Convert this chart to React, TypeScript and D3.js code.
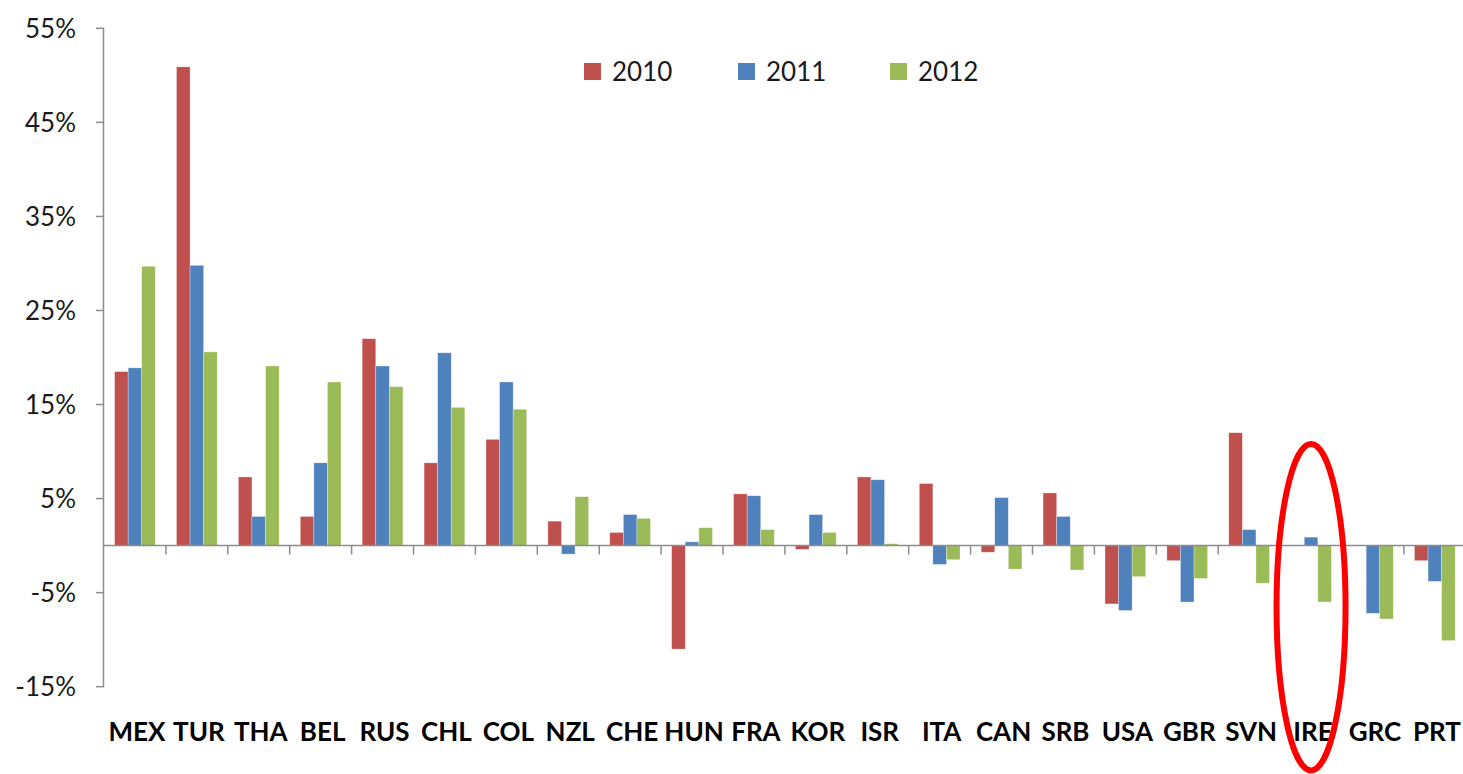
import React from 'react';
import * as d3 from 'd3';

const countries = ['MEX', 'TUR', 'THA', 'BEL', 'RUS', 'CHL', 'COL', 'NZL', 'CHE', 'HUN', 'FRA', 'KOR', 'ISR', 'ITA', 'CAN', 'SRB', 'USA', 'GBR', 'SVN', 'IRE', 'GRC', 'PRT'];
const years = ['2010', '2011', '2012'];
const values2010 = [18.5, 50.9, 7.3, 3.1, 22.0, 8.8, 11.3, 2.6, 1.4, -11.0, 5.5, -0.4, 7.3, 6.6, -0.7, 5.6, -6.2, -1.6, 12.0, 0, 0, -1.6];
const values2011 = [18.9, 29.8, 3.1, 8.8, 19.1, 20.5, 17.4, -0.9, 3.3, 0.4, 5.3, 3.3, 7.0, -2.0, 5.1, 3.1, -6.9, -6.0, 1.7, 0.9, -7.2, -3.8];
const values2012 = [29.7, 20.6, 19.1, 17.4, 16.9, 14.7, 14.5, 5.2, 2.9, 1.9, 1.7, 1.4, 0.2, -1.5, -2.5, -2.6, -3.3, -3.5, -4.0, -6.0, -7.8, -10.1];
const yTicks = [55, 45, 35, 25, 15, 5, -5, -15];
const colors = ['#C0504D', '#4F81BD', '#9BBB59'];

// red ring drawn around one country
const highlight = 'IRE';
const highlightRange = [10.8, -23.9];

const width = 1463;
const height = 774;
const left = 104;
const step = 61.9;

const App = () => {
  const series = [values2010, values2011, values2012];

  const x0 = d3.scaleBand()
    .domain(countries)
    .range([left, left + step * countries.length])
    .padding(0);

  const x1 = d3.scaleBand()
    .domain(years)
    .range([0, x0.bandwidth()])
    .paddingInner(0)
    .paddingOuter(0.78);

  const y = d3.scaleLinear()
    .domain([-15, 55])
    .range([686.7, 28.3]);

  const zero = y(0);

  // ellipse around highlighted country
  const hx = x0(highlight) + x0.bandwidth() / 2;
  const hTop = y(highlightRange[0]);
  const hBottom = y(highlightRange[1]);

  const legendX = [584, 738, 890];

  return (
    <svg width={width} height={height} style={{ position: 'absolute', left: 0, top: 0, background: '#fff' }}>
      {/* y axis */}
      <line x1={left - 0.5} x2={left - 0.5} y1={y(55)} y2={y(-15)} stroke="#8c8c8c" strokeWidth={1.5} />
      {yTicks.map(t => (
        <g key={t}>
          <line x1={left - 8} x2={left} y1={y(t)} y2={y(t)} stroke="#8c8c8c" strokeWidth={1.5} />
          <text x={76} y={y(t)} dy="0.36em" textAnchor="end" fontFamily="Lato" fontSize={26} fill="#1a1a1a">{t}%</text>
        </g>
      ))}

      {/* bars */}
      {countries.map((c, i) => (
        <g key={c} transform={`translate(${x0(c)},0)`}>
          {series.map((s, j) => (
            <rect
              key={years[j]}
              x={x1(years[j])}
              y={Math.min(y(s[i]), zero)}
              width={x1.bandwidth()}
              height={Math.abs(y(s[i]) - zero)}
              fill={colors[j]}
              stroke="#fff"
              strokeOpacity={0.5}
              strokeWidth={0.6}
            />
          ))}
        </g>
      ))}

      {/* zero line and category ticks */}
      <line x1={left} x2={width} y1={zero} y2={zero} stroke="#8c8c8c" strokeWidth={1.5} />
      {countries.map(c => (
        <line key={c} x1={x0(c) + step} x2={x0(c) + step} y1={zero} y2={zero + 9} stroke="#8c8c8c" strokeWidth={1.5} />
      ))}

      {/* category labels */}
      {countries.map(c => (
        <text key={c} x={x0(c) + x0.bandwidth() / 2 + 2} y={741} textAnchor="middle" fontFamily="Lato" fontWeight="bold" fontSize={26} fill="#000">{c}</text>
      ))}

      {/* legend */}
      {years.map((yr, j) => (
        <g key={yr} transform={`translate(${legendX[j]},63)`}>
          <rect width={17} height={17} fill={colors[j]} />
          <text x={28} y={18} fontFamily="Lato" fontSize={26} fill="#1a1a1a">{yr}</text>
        </g>
      ))}

      {/* highlight ring */}
      <ellipse
        cx={hx}
        cy={(hTop + hBottom) / 2}
        rx={34.5}
        ry={(hBottom - hTop) / 2}
        fill="none"
        stroke="#ff0000"
        strokeWidth={6}
      />
    </svg>
  );
};

export default App;
